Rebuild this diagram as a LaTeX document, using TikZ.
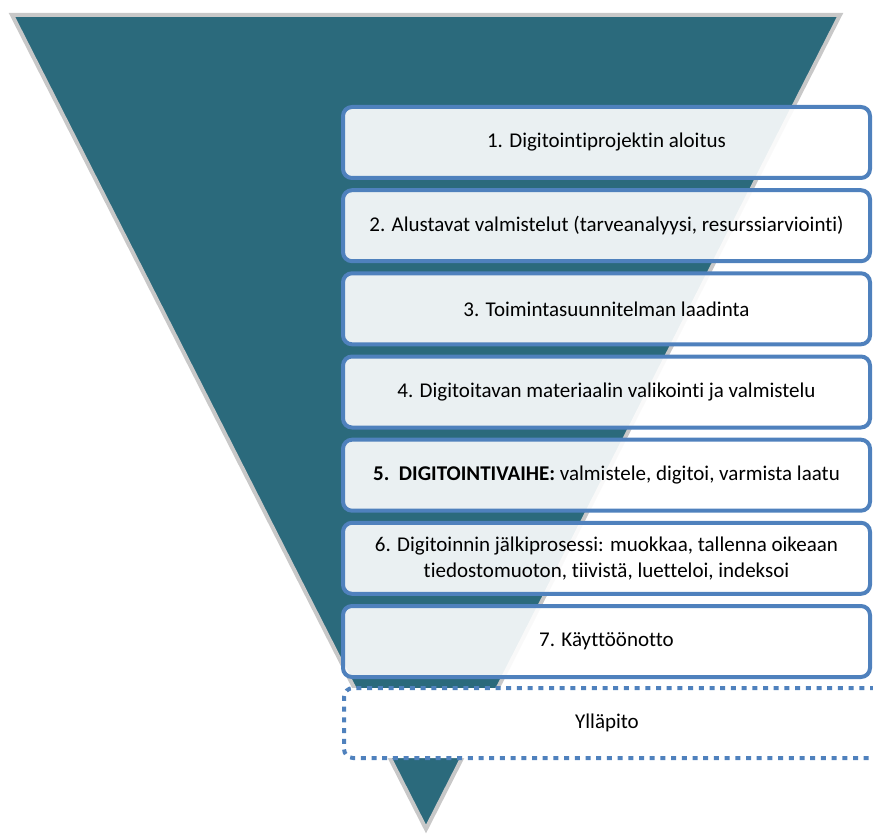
\documentclass[tikz,border=0pt]{standalone}
\usepackage{fontspec}
\setmainfont{Carlito}[Ligatures={NoCommon}]
\definecolor{teal}{HTML}{2B6A7C}
\definecolor{tgray}{HTML}{C8C8C8}
\definecolor{bblue}{HTML}{4F81BD}
\tikzset{
  stagebox/.style={draw=bblue, line width=4pt, rounded corners=9pt, fill=white,
    fill opacity=0.9, text opacity=1, minimum width=527pt, minimum height=71pt,
    align=center, inner sep=0pt,
    font=\fontsize{21}{25.5}\selectfont},
  dotbox/.style={draw=bblue, line width=4pt, rounded corners=9pt, fill=white,
    dash pattern=on 5pt off 5.7pt, minimum width=540pt, minimum height=70pt,
    align=center, inner sep=0pt, font=\fontsize{21}{25.5}\selectfont},
}
\begin{document}
\begin{tikzpicture}[x=1pt,y=-1pt]
\useasboundingbox (0,0) rectangle (873,840);
\fill[teal] (12,15) coordinate (tl) -- (840,15) coordinate (tr) -- (426,829) coordinate (ap) -- cycle;
\draw[tgray, line width=4pt, line join=miter] (tl) -- (tr) -- (ap) -- cycle;
\node[stagebox] (s1) at (606.5,142.5) {1. Digitointiprojektin aloitus};
\node[stagebox] (s2) at (606.5,225.7) {2. Alustavat valmistelut (tarveanalyysi, resurssiarviointi)};
\node[stagebox] (s3) at (606.5,308.8) {3. Toimintasuunnitelman laadinta};
\node[stagebox] (s4) at (606.5,392.0) {4. Digitoitavan materiaalin valikointi ja valmistelu};
\node[stagebox] (s5) at (606.5,475.2) {\textbf{5.\ \ DIGITOINTIVAIHE:} valmistele, digitoi, varmista laatu};
\node[stagebox] (s6) at (606.5,558.3) {6. Digitoinnin jälkiprosessi: muokkaa, tallenna oikeaan\\tiedostomuoton, tiivistä, luetteloi, indeksoi};
\node[stagebox] (s7) at (606.5,641.5) {7. Käyttöönotto};
\node[dotbox] (yl) at (614,723) {};
\node[font=\fontsize{21}{25.5}\selectfont] (ylt) at (607,723) {Ylläpito};
\end{tikzpicture}
\end{document}
